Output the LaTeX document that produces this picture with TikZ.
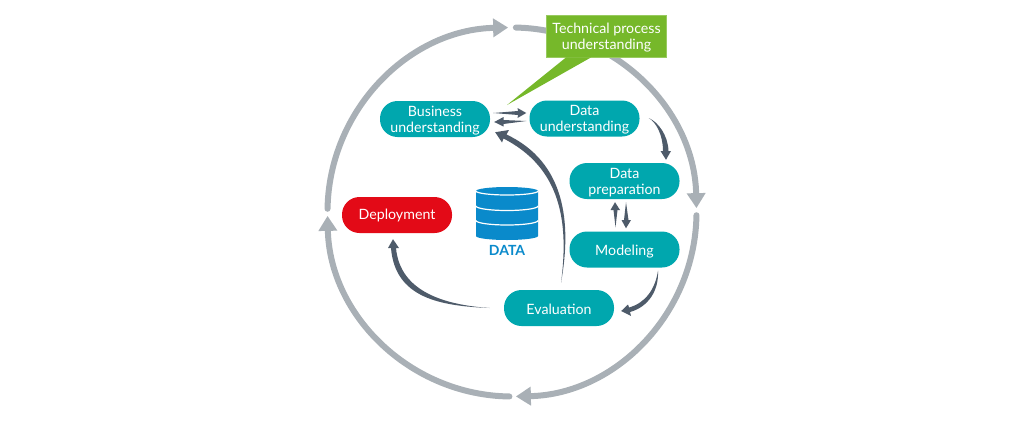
\documentclass[tikz,border=0pt]{standalone}
\usepackage{fontspec}
\setmainfont{Lato}
\newcommand{\lw}[2][-2pt]{\raisebox{#1}[\height][\depth]{#2}}
\usetikzlibrary{arrows.meta,calc}
\definecolor{teal1}{HTML}{00A7AE}
\definecolor{red1}{HTML}{E30A17}
\definecolor{ring1}{HTML}{A9B0B6}
\definecolor{dark1}{HTML}{4E5B6A}
\definecolor{green1}{HTML}{76B82A}
\definecolor{blue1}{HTML}{0A8ACB}
\tikzset{
  pill/.style={fill=#1,rounded corners=17.5pt,minimum width=110pt,minimum height=36pt,inner sep=0pt,
    text=white,align=center,font=\fontsize{14.2}{16}\selectfont},
  ringarc/.style={draw=ring1,line width=6pt,line cap=round,-{Triangle[length=15pt,width=18pt]}},
  taper/.style={fill=dark1,draw=none},
  band/.style={draw=white,line width=1.2pt}
}
\begin{document}
\begin{tikzpicture}[x=1pt,y=-1pt]
\useasboundingbox (0,0) rectangle (1024,423);
\coordinate (c) at (512,212);
\draw[ringarc] (c) ++(-88.8:184.5) arc[start angle=-88.8,end angle=-1.2,radius=184.5];
\draw[ringarc] (c) ++(1:184.5) arc[start angle=1,end angle=88.8,radius=184.5];
\draw[ringarc] (c) ++(90.8:184.5) arc[start angle=90.8,end angle=178.8,radius=184.5];
\draw[ringarc] (c) ++(181:184.5) arc[start angle=181,end angle=268.8,radius=184.5];

\node[pill=teal1] (bu) at (435,119) {\lw{Business}\\\lw{understanding}};
\node[pill=teal1] (du) at (584.5,118.5) {\lw[-1pt]{Data}\\\lw[-1pt]{understanding}};
\node[pill=teal1] (dp) at (624.5,181) {\lw{Data}\\\lw{preparation}};
\node[pill=teal1] (mo) at (624.5,249.5) {\lw{Modeling}};
\node[pill=teal1] (ev) at (559,308) {\lw[-1pt]{Evaluation}};
\node[pill=red1] (de) at (397,215) {\lw[0pt]{Deployment}};

% callout
\node[fill=green1,draw=green1!75!white,line width=.6pt,minimum width=120pt,minimum height=42pt,inner sep=0pt,
  text=white,align=center,font=\fontsize{14.2}{16}\selectfont] (tp) at (606.5,36) {\lw[-1.5pt]{Technical process}\\\lw[-1.5pt]{understanding}};
\coordinate (tptip) at (507,105);
\fill[green1] ($(tp.south west)+(20,0)$) -- (tptip) -- ($(tp.south west)+(45,0)$) -- cycle;

% data cylinder
\fill[blue1] (476,191) -- (476,236) arc[start angle=180,end angle=0,x radius=31,y radius=4] -- (538,191)
  arc[start angle=0,end angle=-180,x radius=31,y radius=4] -- cycle;
\draw[band] (476,191) arc[start angle=180,end angle=0,x radius=31,y radius=4];
\draw[band] (476,206) arc[start angle=180,end angle=0,x radius=31,y radius=4.5];
\draw[band] (476,220.5) arc[start angle=180,end angle=0,x radius=31,y radius=4.5];
\node[text=blue1,inner sep=0pt,font=\fontsize{14}{16}\selectfont\bfseries] (dat) at (507,250) {DATA};

% tapered connectors
% business -> data understanding
\coordinate (a1) at ($(bu.east)+(3,-6)$);
\coordinate (a2) at ($(du.west)+(-3,-5.5)$);
\fill[taper] (a1) -- (518,111) -- (517.5,108) -- (a2) -- (517.5,118) -- (518,115) -- cycle;
% data -> business understanding
\coordinate (b1) at ($(du.west)+(-3,2.5)$);
\coordinate (b2) at ($(bu.east)+(4,3)$);
\fill[taper] (b1) -- (503.5,120) -- (503.5,117) -- (b2) -- (503.5,126.5) -- (503.5,124) -- cycle;
% evaluation -> business understanding
\coordinate (c1) at ($(ev.north)+(2,-7)$);
\coordinate (c2) at ($(bu.south east)+(5,-5)$);
\fill[taper] (c1) .. controls (569,222) and (561,168) .. (503.5,138.5)
  -- (502,142.5) -- (c2) -- (509,130) -- (506.5,134.5)
  .. controls (565,162) and (572,222) .. (c1) -- cycle;
% data understanding -> preparation
\coordinate (d1) at ($(du.east)+(9,-0.5)$);
\coordinate (d2) at ($(dp.north)+(41.5,-3)$);
\fill[taper] (d1) .. controls (656,122) and (663,135) .. (663,151) -- (660.5,151) -- (d2) -- (671,151) -- (668.5,151)
  .. controls (668,135) and (658,122) .. (d1) -- cycle;
% modeling -> preparation
\coordinate (e1) at ($(mo.north)+(-9,-4)$);
\coordinate (e2) at ($(dp.south)+(-9.5,3)$);
\fill[taper] (e1) -- (613.5,210) -- (610.5,210) -- (e2) -- (620,210) -- (617.5,210) -- cycle;
% preparation -> modeling
\coordinate (f1) at ($(dp.south)+(1.5,3)$);
\coordinate (f2) at ($(mo.north)+(1.5,-3)$);
\fill[taper] (f1) -- (624,220) -- (621.5,220) -- (f2) -- (631,220) -- (628.5,220) -- cycle;
% modeling -> evaluation
\coordinate (g1) at ($(mo.south)+(33.5,3)$);
\coordinate (g2) at ($(ev.east)+(7,3)$);
\fill[taper] (g1) .. controls (655,290) and (645,303) .. (629,307.5) -- (628,304.5) -- (g2)
  -- (631,316) -- (630,312) .. controls (648,307) and (659,291) .. (g1) -- cycle;
% evaluation -> deployment
\coordinate (h1) at ($(ev.west)+(-14,0)$);
\coordinate (h2) at ($(de.south)+(-4,6)$);
\fill[taper] (h1) .. controls (440,306) and (395,298) .. (391,248) -- (388,248) -- (h2)
  -- (399,248) -- (396,248) .. controls (400,292) and (445,305) .. (h1) -- cycle;
\end{tikzpicture}
\end{document}
